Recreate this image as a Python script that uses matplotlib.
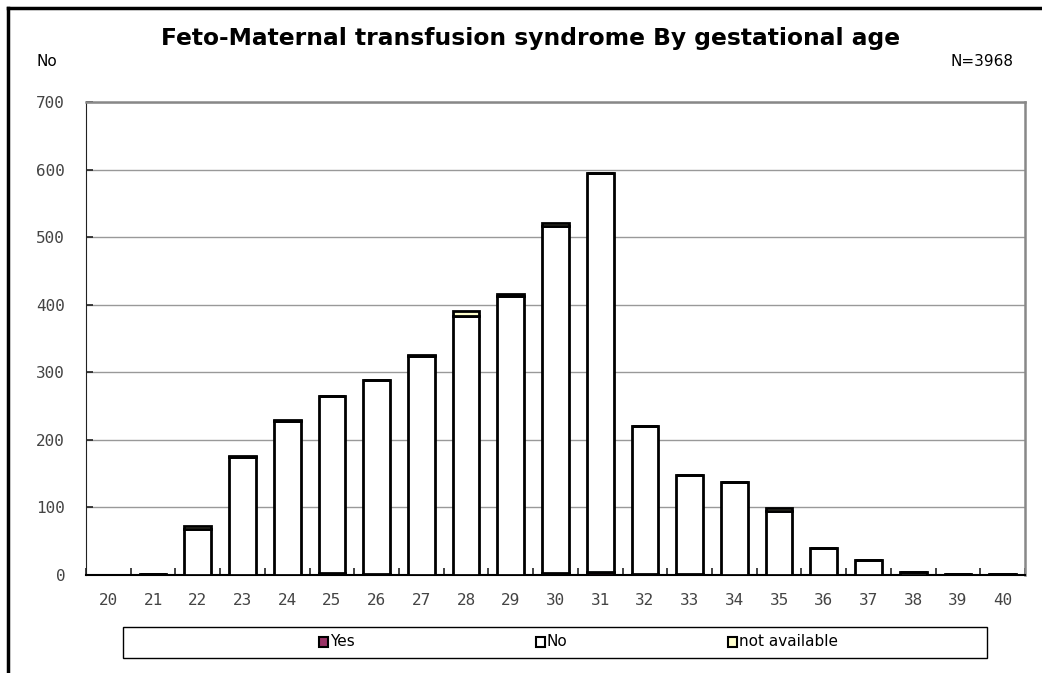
import matplotlib.pyplot as plt
import numpy as np
from matplotlib.patches import Rectangle

# Daten: Gestationsalter (Wochen) und Anzahl je Kategorie
weeks = [str(w) for w in range(20, 41)]
yes = [0, 0, 0, 0, 0, 3, 2, 0, 0, 0, 3, 4, 1, 1, 0, 0, 0, 0, 0, 0, 0]
no = [0, 1, 68, 175, 228, 262, 286, 324, 384, 413, 514, 591, 220, 147, 137, 95, 40, 22, 4, 1, 1]
not_avail = [0, 0, 5, 1, 1, 0, 0, 2, 6, 3, 4, 0, 0, 0, 0, 4, 0, 0, 0, 0, 0]

yes = np.array(yes)
no = np.array(no)
not_avail = np.array(not_avail)

fig = plt.figure(figsize=(10.42, 6.73), dpi=100)
ax = fig.add_axes([86 / 1042, 1 - 575 / 673, 939 / 1042, 473 / 673])

x = np.arange(len(weeks))
w = 0.6
ax.bar(x, yes, w, color="#993366", edgecolor="black", linewidth=2, zorder=3)
ax.bar(x, no, w, bottom=yes, color="white", edgecolor="black", linewidth=2, zorder=3)
ax.bar(x, not_avail, w, bottom=yes + no, color="#ffffcc", edgecolor="black", linewidth=2, zorder=3)

ax.set_xlim(-0.5, len(weeks) - 0.5)
ax.set_ylim(0, 700)
ax.set_yticks(range(0, 701, 100))
ax.set_xticks(x)
ax.set_xticklabels(weeks)
ax.set_xticks(np.arange(-0.5, len(weeks), 1), minor=True)
ax.tick_params(axis="x", which="major", length=0, pad=13)
ax.tick_params(axis="x", which="minor", length=5, width=1.2, direction="in", color="#222222")
ax.tick_params(axis="y", length=5, width=1.2, direction="in", color="#222222", pad=15)
for lab in ax.get_xticklabels() + ax.get_yticklabels():
    lab.set_fontfamily("DejaVu Sans Mono")
    lab.set_fontsize(11.5)
    lab.set_color("#444444")

ax.grid(axis="y", color="#999999", linewidth=1, zorder=0)
ax.set_axisbelow(True)
for side in ["top", "right"]:
    ax.spines[side].set_color("#888888")
    ax.spines[side].set_linewidth(1.8)
ax.spines["left"].set_color("#222222")
ax.spines["bottom"].set_color("black")
ax.spines["bottom"].set_linewidth(1.5)

# Titel und Beschriftungen
fig.text(531 / 1042, 1 - 38 / 673, "Feto-Maternal transfusion syndrome By gestational age",
         ha="center", va="center", fontsize=16.8, fontweight="bold", family="DejaVu Sans")
fig.text(37 / 1042, 1 - 62 / 673, "No", ha="left", va="center", fontsize=11)
fig.text(1013 / 1042, 1 - 62 / 673, "N=3968", ha="right", va="center", fontsize=11)

# Legende selbst gezeichnet
fig.patches.append(Rectangle((123 / 1042, 1 - 658 / 673), 864 / 1042, 31 / 673,
                             transform=fig.transFigure, facecolor="white",
                             edgecolor="black", linewidth=1))
legend_items = [("Yes", "#993366", 319), ("No", "white", 536), ("not available", "#ffffcc", 728)]
for name, col, px in legend_items:
    fig.patches.append(Rectangle((px / 1042, 1 - 647 / 673), 9 / 1042, 10 / 673,
                                 transform=fig.transFigure, facecolor=col,
                                 edgecolor="black", linewidth=1.5))
    fig.text((px + 11) / 1042, 1 - 642 / 673, name, ha="left", va="center", fontsize=11)

# Rahmen (links und oben)
fig.add_artist(plt.Line2D([8 / 1042, 8 / 1042], [0, 1 - 8 / 673], color="black", lw=2.5,
                          transform=fig.transFigure))
fig.add_artist(plt.Line2D([8 / 1042, 1], [1 - 8 / 673, 1 - 8 / 673], color="black",
                          lw=2.5, transform=fig.transFigure))

fig.savefig("out.png", dpi=100)
